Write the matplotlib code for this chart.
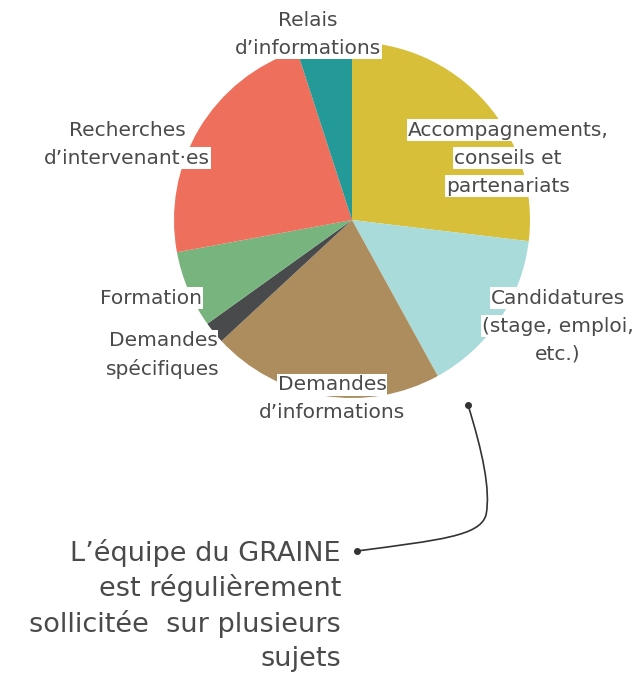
import matplotlib
matplotlib.use("Agg")
import matplotlib.pyplot as plt
from matplotlib.path import Path
from matplotlib.patches import PathPatch

categories = [
    "Accompagnements,\nconseils et\npartenariats",
    "Candidatures\n(stage, emploi,\netc.)",
    "Demandes\nd\u2019informations",
    "Demandes\nsp\u00e9cifiques",
    "Formation",
    "Recherches\nd\u2019intervenant\u00b7es",
    "Relais\nd\u2019informations",
]
values = [26.9, 15.1, 21.1, 2.0, 7.0, 22.9, 5.0]
colors = ["#D8BF39", "#A8DBDA", "#AD8D5E", "#484A4B", "#77B47E", "#EE6F5B", "#239A97"]

# label anchor (pixel coords of first line centre) – layout only
label_pos = [(508, 130), (558, 298), (332, 385), (163, 341), (151, 298), (127, 130), (308, 20)]

annotation = "L\u2019\u00e9quipe du GRAINE\nest r\u00e9guli\u00e8rement\nsollicit\u00e9e  sur plusieurs\nsujets"

W, H = 644, 675
fig = plt.figure(figsize=(W / 100, H / 100), dpi=100)
fig.patch.set_facecolor("white")

cx, cy, r = 352, 220, 178
ax = fig.add_axes([(cx - r) / W, (H - cy - r) / H, 2 * r / W, 2 * r / H])
ax.pie(values, colors=colors, startangle=90, counterclock=False, radius=1,
       wedgeprops=dict(linewidth=0))
ax.set_xlim(-1, 1)
ax.set_ylim(-1, 1)
ax.set_aspect("equal")
ax.axis("off")

ov = fig.add_axes([0, 0, 1, 1], zorder=5)
ov.set_xlim(0, W)
ov.set_ylim(H, 0)
ov.axis("off")
ov.patch.set_alpha(0)

tc = "#4a4a4a"
fam = ["DejaVu Sans"]
for lab, (x, y) in zip(categories, label_pos):
    for i, line in enumerate(lab.split("\n")):
        ov.text(x, y + i * 28, line, ha="center", va="center", fontsize=14.5,
                color=tc, family=fam,
                bbox=dict(boxstyle="square,pad=0.05", fc="white", ec="none"))

for i, line in enumerate(annotation.split("\n")):
    ov.text(341, 553 + i * 35.5, line, ha="right", va="center", fontsize=19.5,
            color=tc, family=fam)

verts = [(468, 405), (482, 450), (491, 490), (486, 515),
         (480, 536), (440, 540), (357, 551)]
codes = [Path.MOVETO, Path.CURVE4, Path.CURVE4, Path.CURVE4,
         Path.CURVE4, Path.CURVE4, Path.CURVE4]
ov.add_patch(PathPatch(Path(verts, codes), fc="none", ec="#333333", lw=1.2))
ov.plot([468, 357], [405, 551], "o", color="#333333", ms=4)

fig.savefig("out.png", dpi=100, facecolor="white")
